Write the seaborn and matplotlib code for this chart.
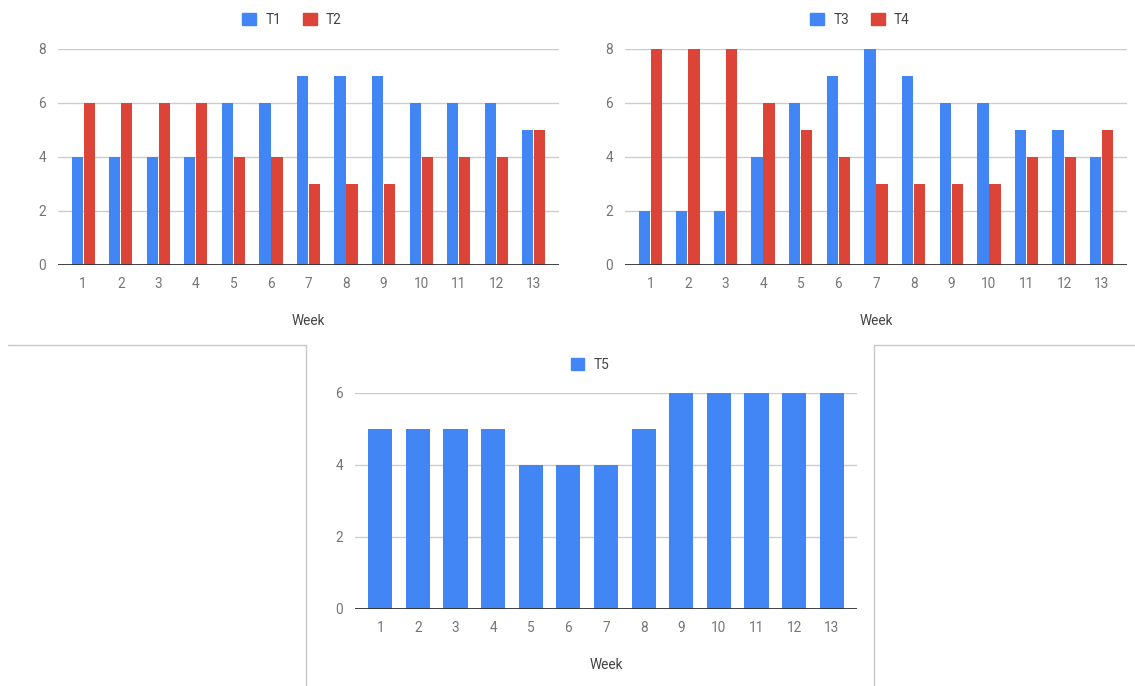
import matplotlib
matplotlib.use("Agg")
import matplotlib.pyplot as plt
from matplotlib.lines import Line2D
from matplotlib.patches import Patch
import seaborn as sns
import pandas as pd

# Weekly counts per series
weeks = [str(w) for w in range(1, 14)]
t1 = [4, 4, 4, 4, 6, 6, 7, 7, 7, 6, 6, 6, 5]
t2 = [6, 6, 6, 6, 4, 4, 3, 3, 3, 4, 4, 4, 5]
t3 = [2, 2, 2, 4, 6, 7, 8, 7, 6, 6, 5, 5, 4]
t4 = [8, 8, 8, 6, 5, 4, 3, 3, 3, 3, 4, 4, 5]
t5 = [5, 5, 5, 5, 4, 4, 4, 5, 6, 6, 6, 6, 6]

BLUE = "#4285F4"
RED = "#DB4437"
GRID = "#CCCCCC"
TICK = "#757575"
LABEL = "#444444"
FRAME = "#C8C8C8"

sns.set_theme(style="white")
plt.rcParams["font.family"] = ["Roboto", "DejaVu Sans"]

W, H = 1135, 686
fig = plt.figure(figsize=(W / 100, H / 100), dpi=100)


def px_axes(left, right, bottom, top):
    return fig.add_axes([left / W, 1 - bottom / H, (right - left) / W, (bottom - top) / H])


def long_frame(series):
    rows = []
    for name, vals in series:
        for wk, v in zip(weeks, vals):
            rows.append({"Week": wk, "Value": v, "Series": name})
    return pd.DataFrame(rows)


def style(ax, ymax, step):
    ax.set_ylim(0, ymax)
    pad = 0.17
    ax.set_xlim(-0.5 - pad, len(weeks) - 0.5 + pad)
    ax.set_yticks(list(range(0, ymax + 1, step)))
    ax.yaxis.grid(True, color=GRID, linewidth=1.0)
    ax.xaxis.grid(False)
    ax.set_axisbelow(True)
    for s in ax.spines.values():
        s.set_visible(False)
    ax.axhline(0, color="#333333", linewidth=1.3, zorder=5)
    ax.tick_params(axis="both", length=0, labelsize=9.8, labelcolor=TICK)
    ax.tick_params(axis="y", pad=8.5)
    ax.tick_params(axis="x", pad=8.5)
    ax.set_ylabel("")
    ax.set_xlabel("Week", fontsize=9.8, color=LABEL, labelpad=17)


def legend(ax, names, colors, cx, cy):
    handles = [Patch(facecolor=c, edgecolor=c, label=n) for n, c in zip(names, colors)]
    ax.legend(handles=handles, loc="center", bbox_to_anchor=(cx / W, 1 - cy / H),
              bbox_transform=fig.transFigure, ncol=len(names), frameon=False,
              handlelength=1.0, handleheight=1.0, handletextpad=0.7, columnspacing=1.6,
              prop={"size": 9.8}, labelcolor=LABEL)


# Top-left: T1 vs T2
ax1 = px_axes(58, 559, 265, 49)
sns.barplot(data=long_frame([("T1", t1), ("T2", t2)]), x="Week", y="Value", hue="Series",
            order=weeks, palette=[BLUE, RED], saturation=1, width=0.64, gap=0.06,
            linewidth=0, errorbar=None, ax=ax1)
style(ax1, 8, 2)
legend(ax1, ["T1", "T2"], [BLUE, RED], 292, 20)

# Top-right: T3 vs T4
ax2 = px_axes(625, 1127, 265, 49)
sns.barplot(data=long_frame([("T3", t3), ("T4", t4)]), x="Week", y="Value", hue="Series",
            order=weeks, palette=[BLUE, RED], saturation=1, width=0.64, gap=0.06,
            linewidth=0, errorbar=None, ax=ax2)
style(ax2, 8, 2)
legend(ax2, ["T3", "T4"], [BLUE, RED], 860, 20)

# Bottom: T5 alone
ax3 = px_axes(355, 857, 609, 393)
sns.barplot(data=long_frame([("T5", t5)]), x="Week", y="Value", color=BLUE, saturation=1,
            order=weeks, width=0.64, linewidth=0, errorbar=None, ax=ax3)
style(ax3, 6, 2)
legend(ax3, ["T5"], [BLUE], 590, 365)

# Panel borders around the bottom chart
def fig_line(xs, ys):
    fig.add_artist(Line2D([x / W for x in xs], [1 - y / H for y in ys],
                          color=FRAME, linewidth=1.0, transform=fig.transFigure))

fig_line([8, 306], [345, 345])
fig_line([306, 306], [345, 686])
fig_line([874.5, 874.5], [345, 686])
fig_line([874.5, 1135], [345, 345])

fig.savefig("out.png", dpi=100, facecolor="white")
